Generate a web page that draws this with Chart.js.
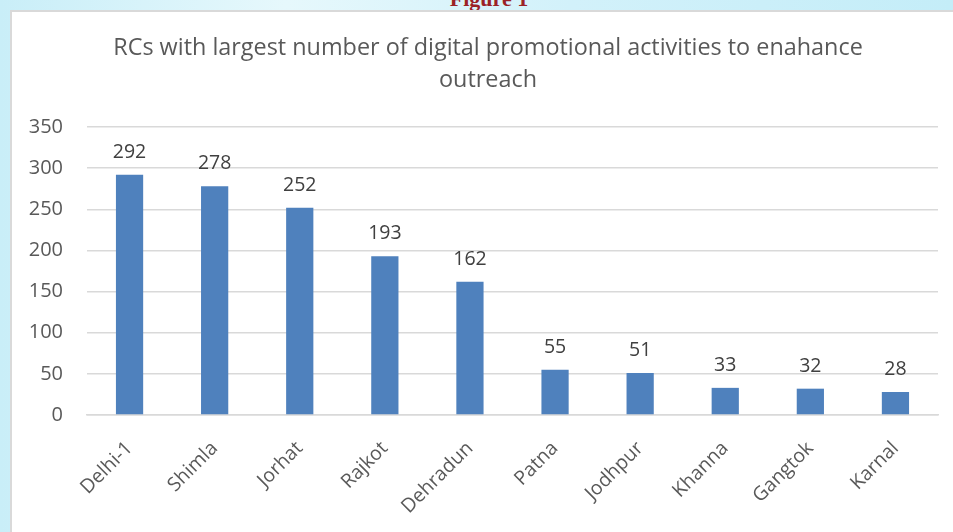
<!DOCTYPE html>
<html>
<head>
<meta charset="utf-8">
<script src="https://cdn.jsdelivr.net/npm/chart.js@4"></script>
<style>
  html, body { margin: 0; padding: 0; }
  body {
    width: 953px; height: 532px; overflow: hidden; position: relative;
    background: linear-gradient(90deg, #c9eef8 0%, #e6f8fc 30%, #d2f1fa 60%, #c4edf8 100%);
  }
  #fig {
    position: absolute; top: -14px; left: 0; width: 978px; text-align: center;
    font-family: "Liberation Serif", serif; font-weight: bold; font-size: 22px; color: #9b2226;
  }
  #box {
    position: absolute; left: 10px; top: 10px; width: 941px; height: 520px;
    background: #fff; border-left: 2px solid #d9d9d9; border-top: 2px solid #d9d9d9;
  }
  #wrap { position: absolute; left: 11px; top: 0; width: 930px; height: 520px; }
</style>
</head>
<body>
<div id="fig">Figure 1</div>
<div id="box"><div id="wrap"><canvas id="chart"></canvas></div></div>
<script>
const categories = ["Delhi-1", "Shimla", "Jorhat", "Rajkot", "Dehradun", "Patna", "Jodhpur", "Khanna", "Gangtok", "Karnal"];
const activities = [292, 278, 252, 193, 162, 55, 51, 33, 32, 28];
const titleLines = ["RCs with largest number of digital promotional activities to enahance", "outreach"];

const font = "'Open Sans', sans-serif";

// draw value above each bar
const valueLabels = {
  id: "valueLabels",
  afterDatasetsDraw(chart) {
    const c = chart.ctx;
    const meta = chart.getDatasetMeta(0);
    c.save();
    c.font = "19.5px " + font;
    c.fillStyle = "#404040";
    c.textAlign = "center";
    c.textBaseline = "alphabetic";
    meta.data.forEach((bar, i) => {
      c.fillText(activities[i], bar.x, bar.y - 17);
    });
    c.restore();
  }
};

new Chart(document.getElementById("chart"), {
  type: "bar",
  data: {
    labels: categories,
    datasets: [{
      data: activities,
      backgroundColor: "#4f81bd",
      barPercentage: 0.32,
      categoryPercentage: 1
    }]
  },
  options: {
    responsive: true,
    maintainAspectRatio: false,
    animation: false,
    layout: { padding: 0 },
    plugins: {
      legend: { display: false },
      tooltip: { enabled: false },
      title: {
        display: true,
        text: titleLines,
        color: "#595959",
        font: { family: font, size: 23.4, weight: "normal", lineHeight: 1.37 },
        padding: { top: 20, bottom: 31 }
      }
    },
    scales: {
      x: {
        grid: { display: false },
        border: { color: "#d9d9d9", width: 1.5 },
        afterFit(scale) { scale.height = 117; },
        ticks: {
          color: "#595959",
          font: { family: font, size: 19.5 },
          minRotation: 45,
          maxRotation: 45,
          padding: 14
        }
      },
      y: {
        min: 0,
        max: 350,
        afterFit(scale) { scale.width = 64; },
        ticks: { stepSize: 50, color: "#595959", font: { family: font, size: 20 }, padding: 24 },
        grid: { color: "#d9d9d9", lineWidth: 1.5, drawTicks: false },
        border: { display: false }
      },
      // empty right axis, only keeps the gridlines short of the right edge
      yRight: {
        position: "right",
        afterFit(scale) { scale.width = 15; },
        ticks: { display: false },
        grid: { display: false },
        border: { display: false }
      }
    }
  },
  plugins: [valueLabels]
});
</script>
</body>
</html>
